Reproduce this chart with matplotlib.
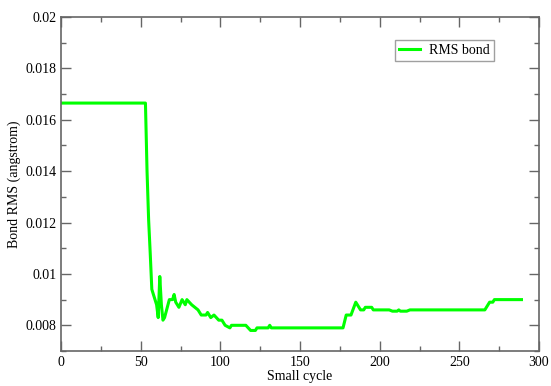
import matplotlib
matplotlib.use('Agg')
import matplotlib.pyplot as plt
from matplotlib.ticker import MultipleLocator, FuncFormatter

# small cycle vs bond RMS
cycle = [0, 53, 54, 55, 56, 57, 59, 60, 61, 62, 63, 64, 65, 68, 70, 71, 72,
         74, 76, 78, 79, 82, 84, 86, 88, 91, 92, 94, 96, 99, 101, 103, 106,
         107, 116, 119, 122, 123, 130, 131, 132, 177, 179, 182, 185, 188,
         190, 191, 195, 196, 206, 208, 211, 212, 213, 217, 219, 266, 269,
         271, 272, 289]
rms_bond = [0.01665, 0.01665, 0.0140, 0.0121, 0.0108, 0.0094, 0.0090, 0.0088,
            0.0083, 0.0099, 0.0088, 0.0082, 0.0083, 0.0090, 0.0090, 0.0092,
            0.0089, 0.0087, 0.0090, 0.0088, 0.0090, 0.0088, 0.0087, 0.0086,
            0.0084, 0.0084, 0.0085, 0.0083, 0.0084, 0.0082, 0.0082, 0.0080,
            0.0079, 0.0080, 0.0080, 0.0078, 0.0078, 0.0079, 0.0079, 0.0080,
            0.0079, 0.0079, 0.0084, 0.0084, 0.0089, 0.0086, 0.0086, 0.0087,
            0.0087, 0.0086, 0.0086, 0.00855, 0.00855, 0.0086, 0.00855,
            0.00855, 0.0086, 0.0086, 0.0089, 0.0089, 0.0090, 0.0090]

plt.rcParams['font.family'] = 'Liberation Serif'
plt.rcParams['font.size'] = 10

fig = plt.figure(figsize=(5.51, 3.86), dpi=100)
ax = fig.add_axes([61 / 551, 1 - 351 / 386, 478 / 551, 334 / 386])

ax.plot(cycle, rms_bond, color='#00ff00', lw=2.2, label='RMS bond')

ax.set_xlim(0, 300)
ax.set_ylim(0.007, 0.02)
ax.xaxis.set_major_locator(MultipleLocator(50))
ax.xaxis.set_minor_locator(MultipleLocator(25))
ax.yaxis.set_major_locator(MultipleLocator(0.002))
ax.yaxis.set_minor_locator(MultipleLocator(0.001))
ax.yaxis.set_major_formatter(FuncFormatter(lambda v, p: '%g' % round(v, 4)))

edge = '#666666'
for s in ax.spines.values():
    s.set_color(edge)
    s.set_linewidth(1.2)
ax.tick_params(which='both', direction='in', top=True, right=True,
               color=edge, width=1.0, labelcolor='black')
ax.tick_params(which='major', length=7)
ax.tick_params(which='minor', length=3.6)

ax.set_xlabel('Small cycle', labelpad=1)
ax.set_ylabel('Bond RMS (angstrom)', labelpad=3)

leg = ax.legend(loc='upper right', bbox_to_anchor=(433 / 478, 311 / 334),
                borderaxespad=0, frameon=True, fancybox=False,
                handlelength=1.5, borderpad=0.3, handletextpad=0.65)
leg.get_frame().set_edgecolor('#888888')
leg.get_frame().set_linewidth(1.0)

fig.savefig('out.png', dpi=100)
